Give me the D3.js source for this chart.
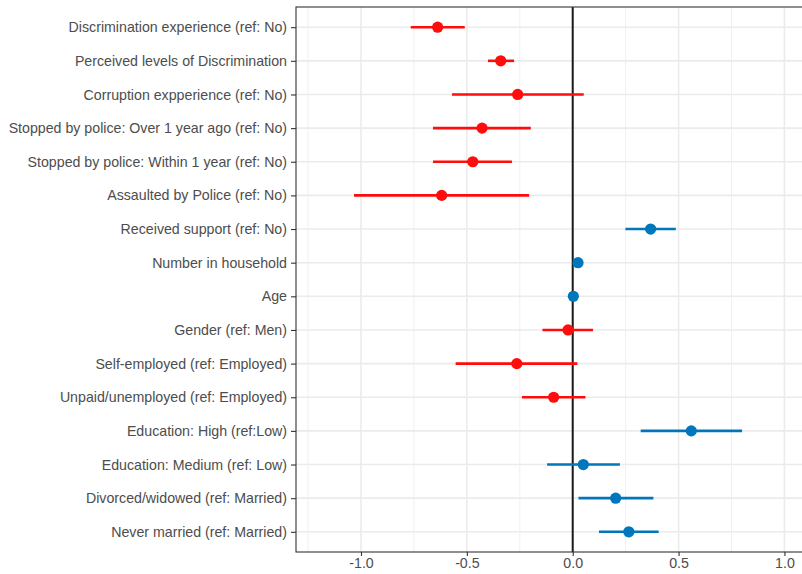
<!doctype html>
<html>
<head>
<meta charset="utf-8">
<script src="https://d3js.org/d3.v7.min.js"></script>
<style>
body { margin: 0; background: #fff; }
svg text { font-family: 'Liberation Sans', Arial, sans-serif; }
</style>
</head>
<body>
<div id="chart"></div>
<script>
// model terms, top to bottom
var terms = [
  "Discrimination experience (ref: No)",
  "Perceived levels of Discrimination",
  "Corruption expperience (ref: No)",
  "Stopped by police: Over 1 year ago (ref: No)",
  "Stopped by police: Within 1 year (ref: No)",
  "Assaulted by Police (ref: No)",
  "Received support (ref: No)",
  "Number in household",
  "Age",
  "Gender (ref: Men)",
  "Self-employed (ref: Employed)",
  "Unpaid/unemployed (ref: Employed)",
  "Education: High (ref:Low)",
  "Education: Medium (ref: Low)",
  "Divorced/widowed (ref: Married)",
  "Never married (ref: Married)"
];
var estimate = [-0.638, -0.34, -0.26, -0.428, -0.472, -0.619, 0.368, 0.025, 0.003, -0.022, -0.264, -0.09, 0.56, 0.05, 0.203, 0.265];
var lower    = [-0.765, -0.40, -0.57, -0.66, -0.66, -1.033, 0.249, 0.015, -0.003, -0.143, -0.553, -0.24, 0.321, -0.121, 0.027, 0.124];
var upper    = [-0.51, -0.277, 0.052, -0.198, -0.287, -0.206, 0.487, 0.035, 0.009, 0.096, 0.022, 0.06, 0.80, 0.223, 0.381, 0.406];
var xTicks = [-1.0, -0.5, 0.0, 0.5, 1.0];
var xMinor = [-1.25, -0.75, -0.25, 0.25, 0.75];

var width = 802, height = 574;
var panelLeft = 296, panelTop = 7, panelBottom = 552;

var rows = terms.map(function(t, i){
  return {term: t, est: estimate[i], lo: lower[i], hi: upper[i]};
});

var svg = d3.select("#chart").append("svg")
  .attr("width", width).attr("height", height);

var x = d3.scaleLinear().domain([-1.307, 1.083]).range([panelLeft, width]);
var y = d3.scalePoint().domain(terms).range([panelTop, panelBottom]).padding(0.6);

// grid
svg.append("g").selectAll("line").data(xMinor).enter().append("line")
  .attr("x1", function(d){return x(d);}).attr("x2", function(d){return x(d);})
  .attr("y1", panelTop).attr("y2", panelBottom)
  .attr("stroke", "#f0f0f0").attr("stroke-width", 1);
svg.append("g").selectAll("line").data(xTicks).enter().append("line")
  .attr("x1", function(d){return x(d);}).attr("x2", function(d){return x(d);})
  .attr("y1", panelTop).attr("y2", panelBottom)
  .attr("stroke", "#ebebeb").attr("stroke-width", 1.6);
svg.append("g").selectAll("line").data(terms).enter().append("line")
  .attr("x1", panelLeft).attr("x2", width)
  .attr("y1", function(d){return y(d);}).attr("y2", function(d){return y(d);})
  .attr("stroke", "#ebebeb").attr("stroke-width", 1.6);

// zero reference line
svg.append("line")
  .attr("x1", x(0)).attr("x2", x(0)).attr("y1", panelTop).attr("y2", panelBottom)
  .attr("stroke", "#1a1a1a").attr("stroke-width", 2);

var colour = function(d){ return d.est < 0 ? "#ff0d0d" : "#0077bb"; };

// error bars and points
svg.append("g").selectAll("line").data(rows).enter().append("line")
  .attr("x1", function(d){return x(d.lo);}).attr("x2", function(d){return x(d.hi);})
  .attr("y1", function(d){return y(d.term);}).attr("y2", function(d){return y(d.term);})
  .attr("stroke", colour).attr("stroke-width", 2.6);
svg.append("g").selectAll("circle").data(rows).enter().append("circle")
  .attr("cx", function(d){return x(d.est);}).attr("cy", function(d){return y(d.term);})
  .attr("r", 5.6).attr("fill", colour);

// panel border
svg.append("rect")
  .attr("x", panelLeft).attr("y", panelTop).attr("width", width - panelLeft + 5).attr("height", panelBottom - panelTop)
  .attr("fill", "none").attr("stroke", "#333").attr("stroke-width", 1.1);

// axes
var xAxis = svg.append("g").attr("transform", "translate(0," + panelBottom + ")")
  .call(d3.axisBottom(x).tickValues(xTicks).tickFormat(d3.format(".1f")).tickSizeOuter(0).tickSize(4).tickPadding(2));
var yAxis = svg.append("g").attr("transform", "translate(" + panelLeft + ",0)")
  .call(d3.axisLeft(y).tickSizeOuter(0).tickSize(5).tickPadding(4));
[xAxis, yAxis].forEach(function(a){
  a.select(".domain").remove();
  a.selectAll(".tick line").attr("stroke", "#333").attr("stroke-width", 1.1);
  a.selectAll(".tick text").attr("fill", "#4d4d4d").style("font-size", "14.2px");
});
xAxis.selectAll(".tick text").text(function(d){ return d3.format(".1f")(d).replace("−", "-"); });
</script>
</body>
</html>
